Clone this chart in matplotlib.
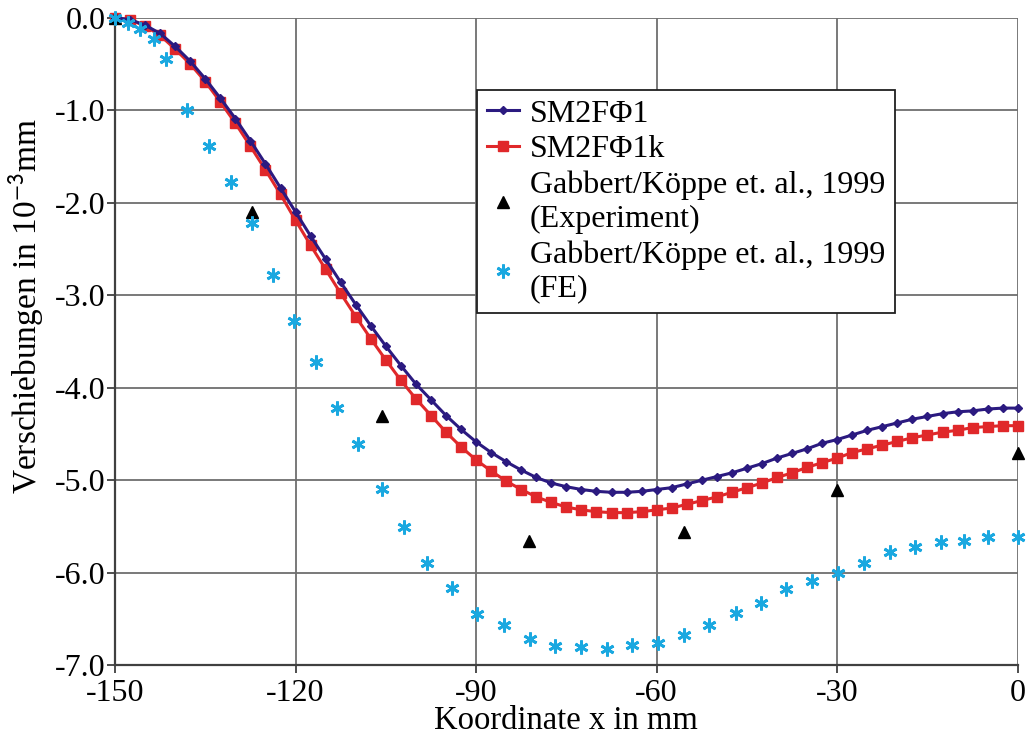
import matplotlib.pyplot as plt
import numpy as np

plt.rcParams["font.family"] = ["Liberation Serif", "DejaVu Serif"]
plt.rcParams["mathtext.fontset"] = "stix"
plt.rcParams["axes.unicode_minus"] = False

# Modellrechnungen, Stützstellen alle 2.5 mm
x_modell = np.arange(-150, 0.01, 2.5)
sm2f1 = [0, -0.02, -0.08, -0.17, -0.31, -0.47, -0.66, -0.87, -1.09, -1.33,
         -1.58, -1.84, -2.10, -2.36, -2.61, -2.86, -3.10, -3.33, -3.55, -3.76,
         -3.96, -4.13, -4.30, -4.45, -4.585, -4.70, -4.80, -4.89, -4.97, -5.03,
         -5.07, -5.10, -5.12, -5.13, -5.13, -5.12, -5.10, -5.08, -5.04, -5.00,
         -4.96, -4.92, -4.87, -4.82, -4.76, -4.71, -4.66, -4.60, -4.56, -4.51,
         -4.46, -4.42, -4.38, -4.34, -4.31, -4.28, -4.26, -4.25, -4.23, -4.22,
         -4.22]
sm2f1k = [0, -0.02, -0.09, -0.19, -0.34, -0.50, -0.69, -0.91, -1.14, -1.39,
          -1.645, -1.91, -2.19, -2.46, -2.72, -2.98, -3.23, -3.47, -3.70, -3.92,
          -4.12, -4.30, -4.48, -4.64, -4.78, -4.90, -5.01, -5.10, -5.18, -5.24,
          -5.29, -5.32, -5.34, -5.35, -5.35, -5.34, -5.32, -5.30, -5.26, -5.22,
          -5.18, -5.13, -5.08, -5.03, -4.97, -4.92, -4.86, -4.81, -4.76, -4.70,
          -4.66, -4.62, -4.58, -4.54, -4.51, -4.48, -4.46, -4.43, -4.42, -4.41,
          -4.41]

# Experiment
x_exp = [-150, -127.3, -105.7, -81.2, -55.5, -30, 0]
y_exp = [0, -2.10, -4.30, -5.66, -5.56, -5.10, -4.70]

# FE-Rechnung
x_fe = [-150, -147.9, -145.8, -143.6, -141.5, -138.0, -134.4, -130.8, -127.3, -123.8,
        -120.2, -116.6, -113.1, -109.7, -105.6, -102.0, -98.1, -94.0, -89.8, -85.4,
        -81.1, -76.9, -72.6, -68.3, -64.1, -59.8, -55.5, -51.3, -46.9, -42.7,
        -38.5, -34.2, -29.9, -25.6, -21.3, -17.1, -12.8, -9.0, -5.0, 0]
y_fe = [0, -0.06, -0.12, -0.23, -0.45, -1.00, -1.39, -1.78, -2.22, -2.78,
        -3.28, -3.72, -4.22, -4.61, -5.09, -5.51, -5.89, -6.17, -6.45, -6.56,
        -6.72, -6.79, -6.80, -6.82, -6.78, -6.76, -6.67, -6.56, -6.44, -6.33,
        -6.18, -6.09, -6.00, -5.89, -5.78, -5.72, -5.67, -5.66, -5.61, -5.61]

fig = plt.figure(figsize=(10.27, 7.40), dpi=100)
ax = fig.add_axes([0.112, 0.101, 0.879, 0.875])

ax.plot(x_modell, sm2f1, "-", color="#2b1a80", lw=2.2, marker="D", ms=4.5,
        label="SM2FΦ1", clip_on=False, zorder=4)
ax.plot(x_modell, sm2f1k, "-", color="#e0282a", lw=2.2, marker="s", ms=7,
        label="SM2FΦ1k", clip_on=False, zorder=3)
ax.plot(x_exp, y_exp, linestyle="none", marker="^", color="black", ms=9,
        label="Gabbert/Köppe et. al., 1999\n(Experiment)", clip_on=False, zorder=5)
ax.plot(x_fe, y_fe, linestyle="none", marker=(6, 2, 0), color="#1aa8e0", ms=10,
        mew=2, label="Gabbert/Köppe et. al., 1999\n(FE)", clip_on=False, zorder=5)

ax.set_xlim(-150, 0)
ax.set_ylim(-7, 0)
ax.set_xticks(np.arange(-150, 1, 30))
ax.set_yticks(np.arange(-7, 0.1, 1))
ax.set_yticklabels([f"{v:.1f}" for v in np.arange(-7, 0.1, 1)])
ax.grid(True, color="#6e6e6e", lw=1.3)
ax.set_axisbelow(True)
for s in ["top", "right"]:
    ax.spines[s].set_visible(False)
for s in ["left", "bottom"]:
    ax.spines[s].set_color("#404040")
    ax.spines[s].set_linewidth(1.6)
ax.tick_params(labelsize=23, direction="out", length=6, width=1.3, color="#404040", pad=1)
ax.tick_params(axis="x", pad=4)

ax.set_xlabel("Koordinate x in mm", fontsize=23.5, labelpad=-2)
ax.set_ylabel("Verschiebungen in 10$^{\\mathsf{-3}}$mm", fontsize=24)
ax.yaxis.set_label_coords(-0.077, 0.555)

leg = ax.legend(loc="upper left", bbox_to_anchor=(0.401, 0.889), fontsize=23,
                frameon=True, fancybox=False, edgecolor="#202020", framealpha=1,
                borderaxespad=0, handlelength=1.0, handletextpad=0.35,
                labelspacing=0.2, borderpad=0.3)
leg.get_frame().set_linewidth(1.3)

fig.savefig("out.png", dpi=100)
